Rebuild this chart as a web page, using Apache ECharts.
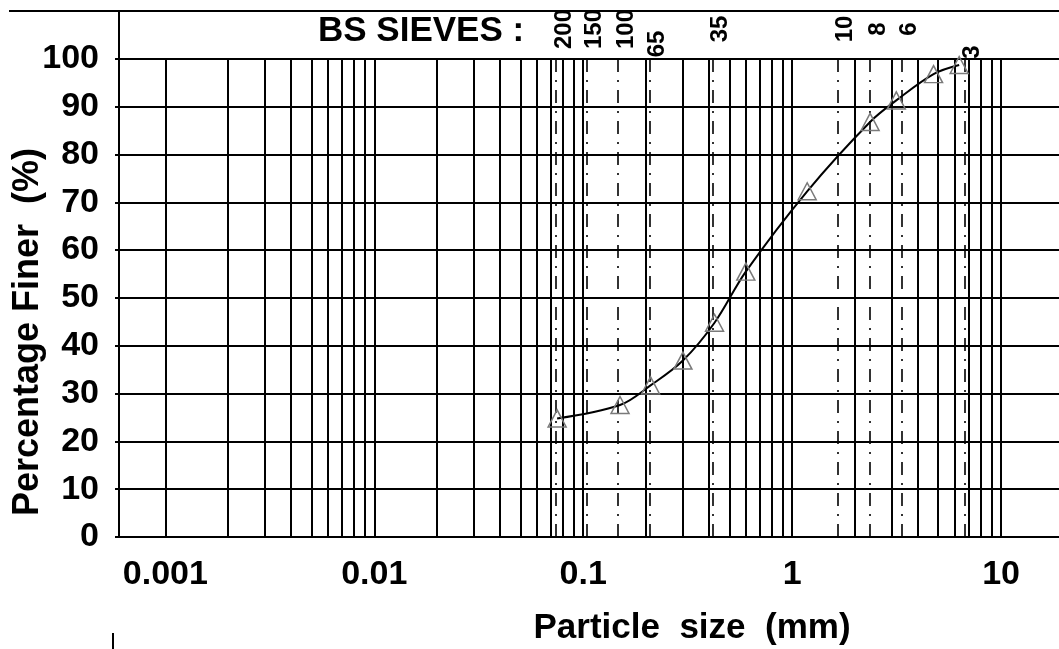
<!DOCTYPE html>
<html>
<head>
<meta charset="utf-8">
<script src="https://cdn.jsdelivr.net/npm/echarts@6/dist/echarts.min.js"></script>
<style>
  html, body { margin: 0; padding: 0; background: #fff; }
  #chart { width: 1059px; height: 649px; }
</style>
</head>
<body>
<div id="chart"></div>
<script>
// grading curve
const particleSize = [0.075, 0.15, 0.21, 0.30, 0.425, 0.60, 1.18, 2.36, 3.15, 4.75, 6.3];
const percentFiner = [24.8, 27.6, 31.7, 36.9, 44.8, 55.5, 72.3, 86.8, 91.3, 96.8, 98.7];

// sieves marked on top (number, opening in mm)
const sieveNos = ['200', '150', '100', '65', '35', '10', '8', '6', '3'];
const sieveSizes = [0.074, 0.104, 0.147, 0.208, 0.417, 1.65, 2.36, 3.33, 6.68];

const xTickLabels = ['0.001', '0.01', '0.1', '1', '10'];
const decades = [0.001, 0.01, 0.1, 1];

// log paper grid: 1..9 in every decade, then 10
const gridValues = [];
decades.forEach(d => {
  for (let k = 1; k <= 9; k++) gridValues.push(+(d * k).toPrecision(3));
});
gridValues.push(10);

const FONT = '"Liberation Sans", Arial, sans-serif';
const labelLift = { '65': 15, '3': 23 }; // some labels were pushed down

const chart = echarts.init(document.getElementById('chart'));

const vLine = v => [{ coord: [v, 0] }, { coord: [v, 100] }];

chart.setOption({
  animation: false,
  grid: { left: 119, top: 11, bottom: 112, width: 945, outerBoundsMode: 'none' },
  xAxis: {
    type: 'log',
    logBase: 10,
    min: 0.0006,
    max: 20,
    axisLine: { lineStyle: { color: '#000', width: 2 } },
    axisTick: { show: false },
    splitLine: { show: false },
    axisLabel: {
      margin: 21,
      color: '#000',
      fontSize: 34,
      fontWeight: 'bold',
      fontFamily: FONT,
      formatter: v => {
        const s = xTickLabels.find(t => Math.abs(parseFloat(t) - v) / v < 1e-6);
        return s || '';
      }
    }
  },
  yAxis: {
    type: 'value',
    min: 0,
    max: 110,
    interval: 10,
    axisLine: { show: true, lineStyle: { color: '#000', width: 2 } },
    axisTick: { show: true, length: 4, lineStyle: { color: '#000', width: 2 } },
    splitLine: { show: true, lineStyle: { color: '#000', width: 2 } },
    axisLabel: {
      margin: 20,
      color: '#000',
      fontSize: 34,
      fontWeight: 'bold',
      fontFamily: FONT,
      padding: [5, 0, 0, 0],
      formatter: v => (v <= 100 ? String(v) : '')
    }
  },
  series: [
    {
      name: 'grid',
      type: 'line',
      data: [],
      silent: true,
      z: 1,
      markLine: {
        silent: true,
        symbol: ['none', 'none'],
        label: { show: false },
        lineStyle: { color: '#000', width: 2, type: 'solid' },
        data: gridValues.map(vLine)
      }
    },
    {
      name: 'sieves',
      type: 'line',
      data: [],
      silent: true,
      z: 2,
      markLine: {
        silent: true,
        symbol: ['none', 'none'],
        label: { show: false },
        lineStyle: { color: '#000', width: 1.6, type: [13, 8, 2, 8] },
        data: sieveSizes.map(vLine)
      }
    },
    {
      name: 'Percentage finer',
      type: 'line',
      z: 5,
      data: particleSize.map((x, i) => [x, percentFiner[i]]),
      smooth: 0.35,
      symbol: 'triangle',
      symbolSize: [18, 17],
      lineStyle: { color: '#000', width: 2 },
      itemStyle: { color: 'rgba(255,255,255,0)', borderColor: '#7a7a7a', borderWidth: 1.5 },
      emphasis: { disabled: true }
    }
  ]
});

// texts around the plot, placed after the scales exist
const yTop = chart.convertToPixel({ gridIndex: 0 }, [1, 110])[1];
const graphics = [
  {
    type: 'line',
    shape: { x1: 9, y1: yTop, x2: 130, y2: yTop },
    style: { stroke: '#000', lineWidth: 2 }
  },
  {
    type: 'line',
    shape: { x1: 113, y1: 633, x2: 113, y2: 649 },
    style: { stroke: '#000', lineWidth: 2 }
  },
  {
    type: 'text',
    x: 318, y: 31.5,
    style: { text: 'BS SIEVES :', font: 'bold 35px ' + FONT, fill: '#000', align: 'left', verticalAlign: 'middle' }
  },
  {
    type: 'text',
    x: 28, y: 332,
    rotation: Math.PI / 2,
    style: { text: 'Percentage Finer  (%)', font: 'bold 36px ' + FONT, fill: '#000', align: 'center', verticalAlign: 'middle' }
  },
  {
    type: 'text',
    x: 692, y: 628,
    style: { text: 'Particle  size  (mm)', font: 'bold 35px ' + FONT, fill: '#000', align: 'center', verticalAlign: 'middle' }
  }
];
sieveNos.forEach((no, i) => {
  const px = chart.convertToPixel({ gridIndex: 0 }, [sieveSizes[i], 110]);
  graphics.push({
    type: 'text',
    x: px[0] + 8,
    y: px[1] + 18 + (labelLift[no] || 0),
    rotation: Math.PI / 2,
    style: { text: no, font: 'bold 24px ' + FONT, fill: '#000', align: 'center', verticalAlign: 'middle' }
  });
});
chart.setOption({ graphic: graphics });
</script>
</body>
</html>
